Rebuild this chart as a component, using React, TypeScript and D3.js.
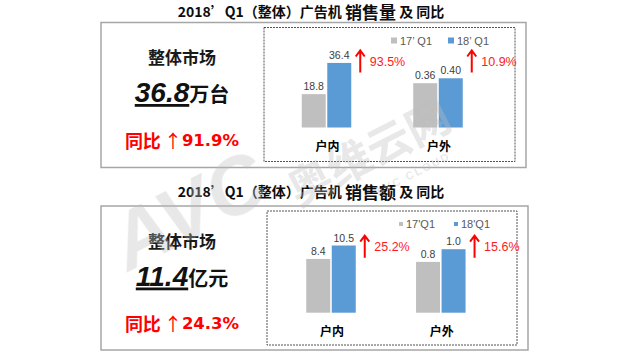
import React from 'react';
import * as d3 from 'd3';

const categories = ['户内', '户外'];

const volumeSeries = ['17’ Q1', '18’ Q1'];
const volume17 = [18.8, 0.36];
const volume18 = [36.4, 0.40];
const volumeYoY = ['93.5%', '10.9%'];
const volumeLabels = ['18.8', '0.36'];
const volumeLabels18 = ['36.4', '0.40'];
const volumeAxisMax = [45.1, 0.65];

const revenueSeries = ['17\'Q1', '18\'Q1'];
const revenue17 = [8.4, 0.8];
const revenue18 = [10.5, 1.0];
const revenueYoY = ['25.2%', '15.6%'];
const revenueLabels = ['8.4', '0.8'];
const revenueLabels18 = ['10.5', '1.0'];
const revenueAxisMax = [12.5, 1.26];

const totals = { volume: '36.8', volumeUnit: '万台', volumeYoY: '91.9%', revenue: '11.4', revenueUnit: '亿元', revenueYoY: '24.3%' };

const COLORS = ['#bfbfbf', '#5b9bd5'];
const CJK = '"Noto Sans CJK SC", "Noto Sans", sans-serif';
const LAT = '"Liberation Sans", Arial, sans-serif';
const RED = '#ff0000';

type PanelProps = {
  top: number;
  titleKey: string;
  series: string[];
  s17: number[];
  s18: number[];
  l17: string[];
  l18: string[];
  yoy: string[];
  axisMax: number[];
  total: string;
  unit: string;
  totalYoY: string;
  outer: [number, number, number, number];
  inner: [number, number, number, number];
  xRange: [number, number];
  baseline: number;
  legendSq: number;
};

function Panel(p: PanelProps) {
  const x = d3.scaleBand<string>().domain(categories).range(p.xRange).padding(0);
  const inner = d3.scaleBand<string>().domain(p.series).range([-24.75, 24.75]).paddingInner(0.06);
  const plotH = 80;
  const ys = p.axisMax.map((m) => d3.scaleLinear().domain([0, m]).range([p.baseline, p.baseline - plotH]));
  const [ox, oy, ow, oh] = p.outer;
  const [ix, iy, iw, ih] = p.inner;
  const titleY = p.top;
  const leftCx = 182;
  return (
    <g>
      <text x={311} y={titleY} textAnchor="middle" dominantBaseline="central" fontFamily={CJK} fontWeight={700} fontSize={14} fill="#0d0d0d">
        <tspan>2018’Q1（整体）广告机 </tspan>
        <tspan fontSize={17}>{p.titleKey}</tspan>
        <tspan> 及 同比</tspan>
      </text>
      <rect x={ox} y={oy} width={ow} height={oh} fill="none" stroke="#a6a6a6" strokeWidth={1.5} />
      <rect x={ix} y={iy} width={iw} height={ih} fill="none" stroke="#404040" strokeWidth={0.9} strokeDasharray="2,1" />
      {/* left summary */}
      <text x={leftCx} y={oy + 34} textAnchor="middle" dominantBaseline="central" fontFamily={CJK} fontWeight={700} fontSize={17} fill="#1a1a1a">整体市场</text>
      <text x={leftCx} y={oy + 79.5} textAnchor="middle" fill="#111">
        <tspan fontFamily={LAT} fontWeight={700} fontStyle="italic" fontSize={28} textDecoration="underline">{p.total}</tspan>
        <tspan fontFamily={CJK} fontWeight={700} fontSize={20}>{p.unit}</tspan>
      </text>
      <text x={leftCx} y={oy + 117} textAnchor="middle" dominantBaseline="central" fill={RED} fontWeight={700}>
        <tspan fontFamily={CJK} fontSize={18}>同比</tspan>
        <tspan dx={3} fontFamily={CJK} fontWeight={400} fontSize={18}>↑</tspan>
        <tspan fontFamily='"DejaVu Sans", sans-serif' fontSize={16.5}>{p.totalYoY}</tspan>
      </text>
      {/* legend */}
      {p.series.map((s, i) => {
        const lx = (i === 0 ? 391 : 448) + (p.legendSq < 6 ? 8 - i * 2 : 0);
        const ly = iy + 13;
        return (
          <g key={s}>
            <rect x={lx} y={ly - p.legendSq / 2} width={p.legendSq} height={p.legendSq} fill={COLORS[i]} />
            <text x={lx + p.legendSq + 3} y={ly} dominantBaseline="central" fontFamily={LAT} fontSize={11} fill="#595959" xmlSpace="preserve">{s}</text>
          </g>
        );
      })}
      {/* bars */}
      {categories.map((c, ci) => {
        const cx = (x(c) as number) + x.bandwidth() / 2;
        const y = ys[ci];
        const vals = [p.s17[ci], p.s18[ci]];
        const labs = [p.l17[ci], p.l18[ci]];
        const blueRight = cx + (inner(p.series[1]) as number) + inner.bandwidth();
        const ax = blueRight + 9;
        const aTop = p.baseline - 77;
        const aBot = p.baseline - 55;
        return (
          <g key={c}>
            {vals.map((v, si) => {
              const bx = cx + (inner(p.series[si]) as number);
              return (
                <g key={si}>
                  <rect x={bx} y={y(v)} width={inner.bandwidth()} height={p.baseline - y(v)} fill={COLORS[si]} />
                  <text x={bx + inner.bandwidth() / 2} y={y(v) - 4} textAnchor="middle" fontFamily={LAT} fontSize={10.5} fill="#404040">{labs[si]}</text>
                </g>
              );
            })}
            <text x={cx + 1} y={p.baseline + 18} textAnchor="middle" dominantBaseline="central" fontFamily={CJK} fontWeight={700} fontSize={12} fill="#000">{c}</text>
            <path d={`M${ax},${aBot} L${ax},${aTop + 1} M${ax - 4.5},${aTop + 6} L${ax},${aTop} L${ax + 4.5},${aTop + 6}`} stroke={RED} strokeWidth={2} fill="none" />
            <text x={ax + 9.5} y={aTop + 11} dominantBaseline="central" fontFamily={LAT} fontSize={12.5} fill="#ff1a1a">{p.yoy[ci]}</text>
          </g>
        );
      })}
    </g>
  );
}

export default function App() {
  return (
    <svg width={619} height={358} viewBox="0 0 619 358" style={{ position: 'absolute', left: 0, top: 0, background: '#fff' }}>
      <rect x={0} y={0} width={619} height={358} fill="#fff" />
      <Panel
        top={11}
        titleKey="销售量"
        series={volumeSeries}
        s17={volume17}
        s18={volume18}
        l17={volumeLabels}
        l18={volumeLabels18}
        yoy={volumeYoY}
        axisMax={volumeAxisMax}
        total={totals.volume}
        unit={totals.volumeUnit}
        totalYoY={totals.volumeYoY}
        outer={[101, 22.5, 425, 145]}
        inner={[264, 27.5, 251, 134]}
        xRange={[270.75, 493.75]}
        baseline={127.5}
        legendSq={6}
      />
      <Panel
        top={191}
        titleKey="销售额"
        series={revenueSeries}
        s17={revenue17}
        s18={revenue18}
        l17={revenueLabels}
        l18={revenueLabels18}
        yoy={revenueYoY}
        axisMax={revenueAxisMax}
        total={totals.revenue}
        unit={totals.revenueUnit}
        totalYoY={totals.revenueYoY}
        outer={[101, 206, 427, 144]}
        inner={[267, 211, 250, 134]}
        xRange={[276.1, 495.7]}
        baseline={312.7}
        legendSq={4}
      />
      {/* watermark */}
      <g opacity={0.35} fill="#bdbdbd" pointerEvents="none">
        <text transform="translate(128,272) rotate(-27)" fontFamily={LAT} fontWeight={700} fontStyle="italic" fontSize={80}>AVC</text>
        <text transform="translate(298,207) rotate(-27)" fontFamily={CJK} fontWeight={700} fontSize={44}>奥维云网</text>
        <text transform="translate(378,196) rotate(-27)" fontFamily={LAT} fontWeight={700} fontSize={11} letterSpacing={2}>AVC CLOUD</text>
      </g>
    </svg>
  );
}
